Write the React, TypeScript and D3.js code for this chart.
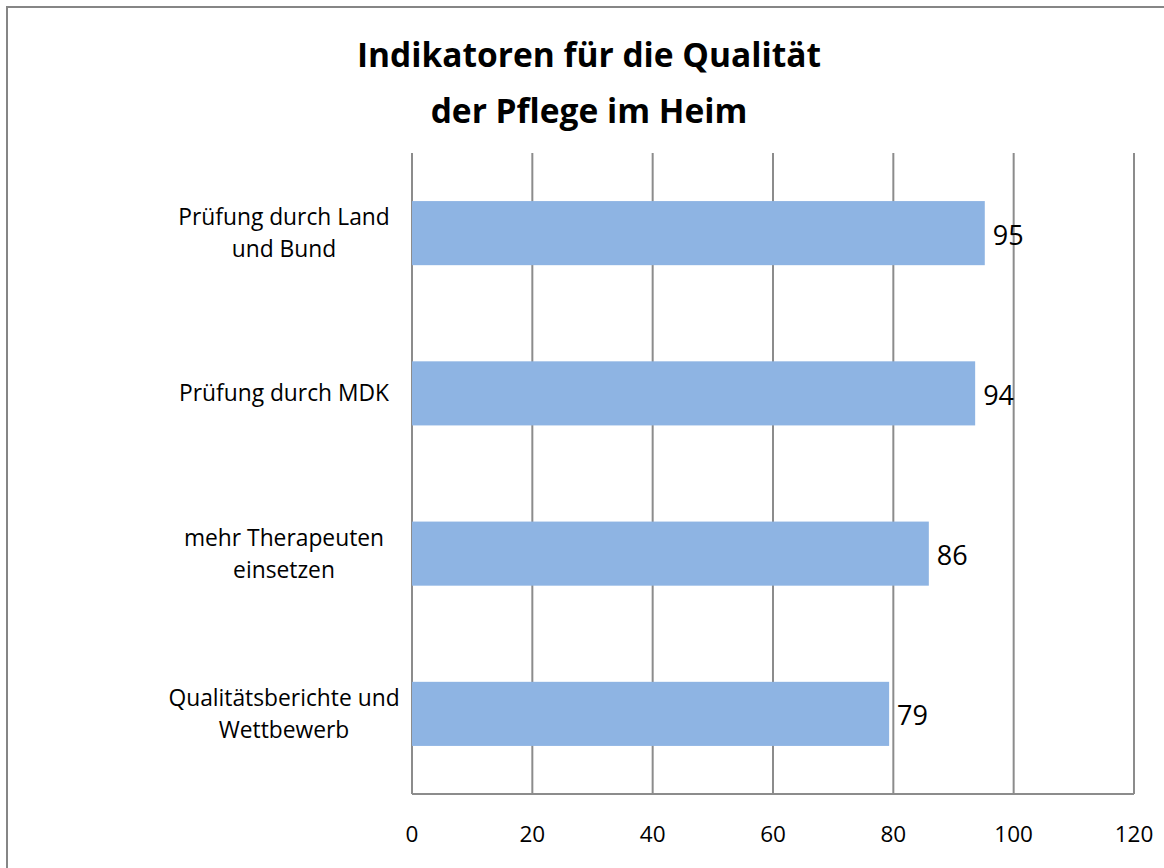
import React from "react";
import * as d3 from "d3";

const categories: string[][] = [
  ["Prüfung durch Land", "und Bund"],
  ["Prüfung durch MDK"],
  ["mehr Therapeuten", "einsetzen"],
  ["Qualitätsberichte und", "Wettbewerb"],
];
const values: number[] = [95.2, 93.6, 85.9, 79.3];
const ticks: number[] = [0, 20, 40, 60, 80, 100, 120];
const titleLines: string[] = ["Indikatoren für die Qualität", "der Pflege im Heim"];

const W = 1164;
const H = 868;
const plot = { left: 412, right: 1134, top: 153, bottom: 794 };
const FONT = "'Open Sans', Lato, 'DejaVu Sans', sans-serif";
const GRID = "#8c8c8c";

export default function App() {
  const x = d3.scaleLinear().domain([0, 120]).range([plot.left, plot.right]);
  const ids = categories.map((_, i) => String(i));
  const y = d3
    .scaleBand<string>()
    .domain(ids)
    .range([plot.top, plot.bottom])
    .paddingInner(0.6)
    .paddingOuter(0.3);

  return (
    <svg
      width={W}
      height={H}
      style={{ position: "absolute", left: 0, top: 0, background: "#fff" }}
      fontFamily={FONT}
    >
      <rect x={0} y={0} width={W} height={H} fill="#fff" />
      <rect x={7} y={7} width={W + 20} height={H + 20} fill="none" stroke="#868686" strokeWidth={2} />

      {titleLines.map((t, i) => (
        <text
          key={i}
          x={589}
          y={67 + i * 56}
          textAnchor="middle"
          fontSize={33.5}
          fontWeight="bold"
          fill="#000"
        >
          {t}
        </text>
      ))}

      {ticks.map((t) => (
        <line
          key={"g" + t}
          x1={x(t)}
          x2={x(t)}
          y1={plot.top}
          y2={plot.bottom}
          stroke={GRID}
          strokeWidth={2}
        />
      ))}
      <line x1={plot.left} x2={plot.right} y1={plot.bottom} y2={plot.bottom} stroke={GRID} strokeWidth={2} />

      {ticks.map((t) => (
        <text key={"t" + t} x={x(t)} y={842} textAnchor="middle" fontSize={22.5} fill="#000">
          {t}
        </text>
      ))}

      {values.map((v, i) => {
        const yy = y(ids[i])!;
        return (
          <g key={"b" + i}>
            <rect x={x(0)} y={yy} width={x(v) - x(0)} height={y.bandwidth()} fill="#8EB4E3" />
            <text
              x={x(v) + 8}
              y={yy + y.bandwidth() / 2 + 11.5}
              fontSize={27}
              fill="#000"
            >
              {d3.format(".0f")(v)}
            </text>
          </g>
        );
      })}

      {categories.map((lines, i) => {
        const cy = y(ids[i])! + y.bandwidth() / 2;
        const lh = 32;
        const start = cy - ((lines.length - 1) * lh) / 2 + 8;
        return lines.map((l, j) => (
          <text
            key={"c" + i + "_" + j}
            x={284}
            y={start + j * lh}
            textAnchor="middle"
            fontSize={22.8}
            fill="#000"
          >
            {l}
          </text>
        ));
      })}
    </svg>
  );
}
